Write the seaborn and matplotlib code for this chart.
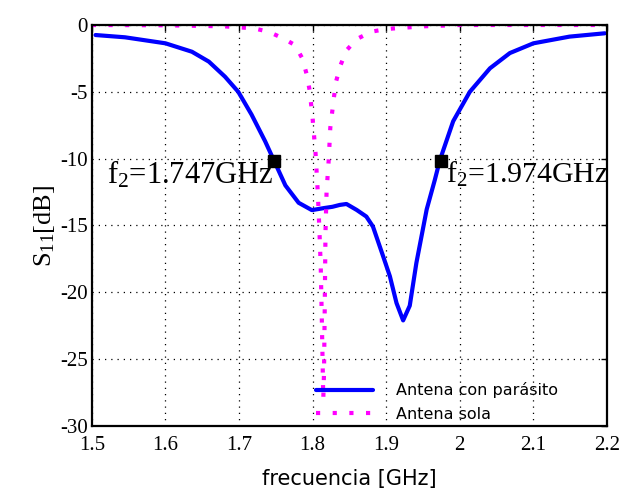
import matplotlib

matplotlib.use("Agg")

import matplotlib.pyplot as plt
import pandas as pd
import seaborn as sns

# Antena con parasito
freq_par = [1.505, 1.545, 1.60, 1.636, 1.659, 1.681, 1.699, 1.717, 1.7355, 1.748,
            1.763, 1.781, 1.799, 1.815, 1.827, 1.837, 1.846, 1.86, 1.873, 1.882,
            1.896, 1.905, 1.914, 1.923, 1.932, 1.941, 1.955, 1.966, 1.973, 1.991,
            2.0136, 2.041, 2.068, 2.10, 2.149, 2.197]
s11_par = [-0.75, -0.92, -1.37, -2.0, -2.74, -3.87, -5.0, -6.7, -8.7, -10.2,
           -12.0, -13.3, -13.85, -13.7, -13.6, -13.46, -13.39, -13.84, -14.33, -15.08,
           -17.33, -18.8, -20.8, -22.1, -21.0, -17.8, -13.8, -11.6, -10.1, -7.2,
           -5.0, -3.24, -2.1, -1.37, -0.87, -0.62]

# Antena sola
freq_sola = [1.50, 1.60, 1.68, 1.72, 1.74, 1.76, 1.776, 1.786, 1.792, 1.796, 1.800,
             1.804, 1.807, 1.809, 1.811, 1.8125, 1.8135, 1.8145, 1.8155, 1.8165,
             1.8175, 1.819, 1.822, 1.824, 1.829, 1.832, 1.838, 1.846, 1.86, 1.88,
             1.90, 1.95, 2.0, 2.2]
s11_sola = [0.0, -0.02, -0.1, -0.25, -0.5, -1.0, -1.5, -2.5, -3.7, -4.9, -7.0,
            -9.6, -12.5, -15.0, -18.0, -22.0, -25.0, -28.0, -26.0, -21.0,
            -15.5, -12.4, -10.0, -7.7, -5.4, -4.2, -3.0, -1.9, -1.05, -0.5,
            -0.3, -0.1, 0.0, 0.0]

marker_freq = [1.747, 1.974]
marker_s11 = [-10.2, -10.2]
marker_labels = ["f$_2$=1.747GHz", "f$_2$=1.974GHz"]

x_ticks = [1.5, 1.6, 1.7, 1.8, 1.9, 2.0, 2.1, 2.2]
x_tick_labels = ["1.5", "1.6", "1.7", "1.8", "1.9", "2", "2.1", "2.2"]
y_ticks = [0, -5, -10, -15, -20, -25, -30]

sns.set_theme(style="white")
plt.rcParams["font.family"] = ["Liberation Serif", "DejaVu Serif"]
plt.rcParams["mathtext.fontset"] = "custom"
plt.rcParams["mathtext.rm"] = "Liberation Serif"
plt.rcParams["mathtext.default"] = "regular"
plt.rcParams["axes.unicode_minus"] = False
plt.rcParams["text.color"] = "black"

df_par = pd.DataFrame({"f": freq_par, "s11": s11_par})
df_sola = pd.DataFrame({"f": freq_sola, "s11": s11_sola})

fig = plt.figure(figsize=(6.29, 5.0), dpi=100)
ax = fig.add_axes([0.146, 0.148, 0.819, 0.802])

sns.lineplot(data=df_par, x="f", y="s11", ax=ax, color="#0000ff", linewidth=3,
             estimator=None, sort=False, label="Antena con parásito")
sns.lineplot(data=df_sola, x="f", y="s11", ax=ax, color="#ff00ff", linewidth=3,
             estimator=None, sort=False, linestyle=(0, (1, 3)), label="Antena sola")
ax.plot(marker_freq, marker_s11, linestyle="none", marker="s", markersize=9,
        color="black", zorder=5)

ax.text(marker_freq[0], marker_s11[0] + 0.15, marker_labels[0], ha="right", va="top",
        fontsize=22, color="black")
ax.text(marker_freq[1] + 0.007, marker_s11[1] + 0.15, marker_labels[1], ha="left",
        va="top", fontsize=21.5, color="black")

ax.set_xlim(1.5, 2.2)
ax.set_ylim(-30, 0)
ax.set_xticks(x_ticks)
ax.set_xticklabels(x_tick_labels)
ax.set_yticks(y_ticks)
ax.tick_params(axis="both", direction="in", length=4, width=1, color="black",
               labelsize=15, labelcolor="black", top=True, right=True)
ax.tick_params(axis="x", pad=7)
ax.tick_params(axis="y", pad=3)
ax.grid(True, color="black", linestyle=(0, (1, 4)), linewidth=0.9)
for spine in ax.spines.values():
    spine.set_color("black")
    spine.set_linewidth(1.6)

ax.set_xlabel("frecuencia [GHz]", family="DejaVu Sans", fontsize=15, color="black",
              labelpad=10)
ax.set_ylabel("S$_{11}$[dB]", fontsize=19, color="black", labelpad=2)

leg = ax.legend(loc="lower left", bbox_to_anchor=(0.435, 0.01), frameon=False,
                handlelength=3.6, handletextpad=1.4, labelspacing=0.55,
                borderpad=0, borderaxespad=0, labelcolor="black",
                prop={"family": "DejaVu Sans", "size": 11.5})

fig.savefig("out.png", dpi=100)
